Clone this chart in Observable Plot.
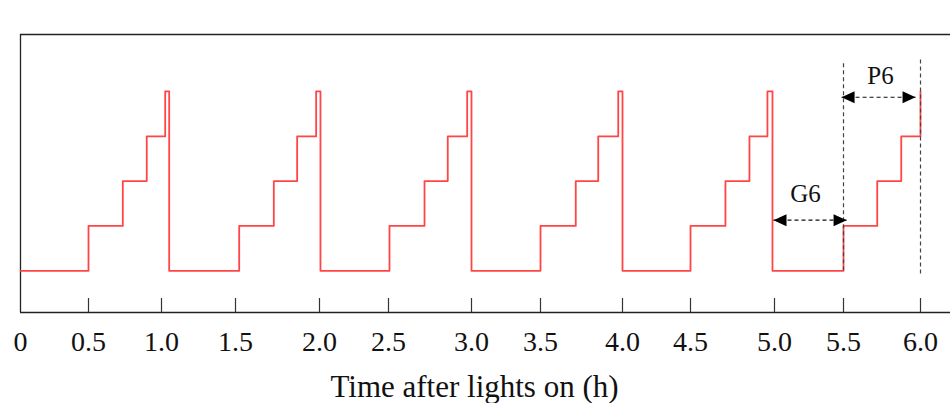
<!DOCTYPE html>
<html><head><meta charset="utf-8">
<script src="https://cdn.jsdelivr.net/npm/d3@7"></script>
<script src="https://cdn.jsdelivr.net/npm/@observablehq/plot@0.6"></script>
<style>body{margin:0;background:#fff}</style>
</head><body><div id="chart"></div>
<script>
// Axis ticks (hours) and their labels
const tickValues = [0.5, 1.0, 1.5, 2.0, 2.5, 3.0, 3.5, 4.0, 4.5, 5.0, 5.5, 6.0];
const tickLabels = ["0.5","1.0","1.5","2.0","2.5","3.0","3.5","4.0","4.5","5.0","5.5","6.0"];
const labelValues = [0, ...tickValues];
const labelTexts = ["0", ...tickLabels];
// schematic (irregular) axis: hour -> pixel breakpoints
const scaleDomain = [0, 0.5, 1.0, 1.5, 2.0, 2.5, 3.0, 3.5, 4.0, 4.5, 5.0, 5.5, 6.0];
const scaleRange  = [20, 88, 161, 235, 319, 388, 471, 540, 622, 690, 774, 843, 920];

// Step series: time (h) and level
const stepTimes = [0, 0.5, 0.735, 0.899, 1.025, 1.052,
                   1.522, 1.728, 1.867, 1.980, 2.007,
                   2.506, 2.717, 2.857, 2.974, 3.0,
                   3.5, 3.715, 3.852, 3.974, 4.0,
                   4.5, 4.708, 4.851, 4.958, 4.988,
                   5.5, 5.719, 5.875, 6.0];
const stepLevels = [0, 1, 2, 3, 4, 0,
                    1, 2, 3, 4, 0,
                    1, 2, 3, 4, 0,
                    1, 2, 3, 4, 0,
                    1, 2, 3, 4, 0,
                    1, 2, 3, 4];

// Dashed guide lines
const guideTimes = [5.5, 6.0];
const guideFrom = [0, -0.07];
const guideTo = [4.65, 4.76];

// Interval annotations
const annNames = ["G6", "P6"];
const annStart = [4.994, 5.486];
const annEnd = [5.52, 5.968];
const annLevel = [1.13, 3.87];
const annLabelX = [5.225, 5.74];
const annLabelLevel = [1.53, 4.17];

const yMin = -0.93, yMax = 5.27;

const serif = "'Liberation Serif', 'Times New Roman', serif";
const steps = stepTimes.map((t, i) => ({t, v: stepLevels[i]}));
const guides = guideTimes.map((t, i) => ({t, a: guideFrom[i], b: guideTo[i]}));
const anns = annNames.map((n, i) => ({n, s: annStart[i], e: annEnd[i], y: annLevel[i], lx: annLabelX[i], ly: annLabelLevel[i]}));

const headRight = {draw(ctx) { ctx.moveTo(0, 0); ctx.lineTo(-13, -6); ctx.lineTo(-13, 6); ctx.closePath(); }};
const headLeft  = {draw(ctx) { ctx.moveTo(0, 0); ctx.lineTo(13, -6); ctx.lineTo(13, 6); ctx.closePath(); }};

const chart = Plot.plot({
  width: 950,
  height: 403,
  marginTop: 34,
  marginBottom: 91,
  marginLeft: 20,
  marginRight: 0,
  style: {background: "#fff", fontFamily: serif},
  x: {type: "linear", domain: scaleDomain, range: scaleRange, axis: null},
  y: {domain: [yMin, yMax], axis: null},
  marks: [
    Plot.ruleY([yMax], {stroke: "#222", strokeWidth: 1.3}),
    Plot.ruleY([yMin], {stroke: "#222", strokeWidth: 1.3}),
    Plot.ruleX([0], {stroke: "#222", strokeWidth: 1.3}),
    Plot.axisX(tickValues, {anchor: "bottom", tickSize: -14, fill: "none", stroke: "#333", strokeWidth: 1.2, label: null}),
    Plot.axisX(labelValues, {anchor: "bottom", tickSize: 0, tickPadding: 19, tickFormat: (d, i) => labelTexts[i],
      fontSize: 28, fontFamily: serif, fill: "#111", label: null}),
    Plot.text(["Time after lights on (h)"], {frameAnchor: "bottom", dx: -11, dy: 84, lineAnchor: "bottom",
      fontSize: 31, fontFamily: serif, fill: "#111"}),
    Plot.line(steps, {x: "t", y: "v", curve: "step-after", stroke: "#ff4545", strokeWidth: 1.8}),
    Plot.ruleX(guides, {x: "t", y1: "a", y2: "b", stroke: "#444", strokeWidth: 1.2, strokeDasharray: "4,3"}),
    Plot.link(anns, {x1: "s", x2: "e", y1: "y", y2: "y", stroke: "#111", strokeWidth: 1.2, strokeDasharray: "4,3"}),
    Plot.dot(anns, {x: "s", y: "y", symbol: headLeft, fill: "#000", stroke: "none"}),
    Plot.dot(anns, {x: "e", y: "y", symbol: headRight, fill: "#000", stroke: "none"}),
    Plot.text(anns, {x: "lx", y: "ly", text: "n", lineAnchor: "bottom", fontSize: 25, fontFamily: serif, fill: "#111"})
  ]
});
document.getElementById("chart").appendChild(chart);
</script>
</body></html>
